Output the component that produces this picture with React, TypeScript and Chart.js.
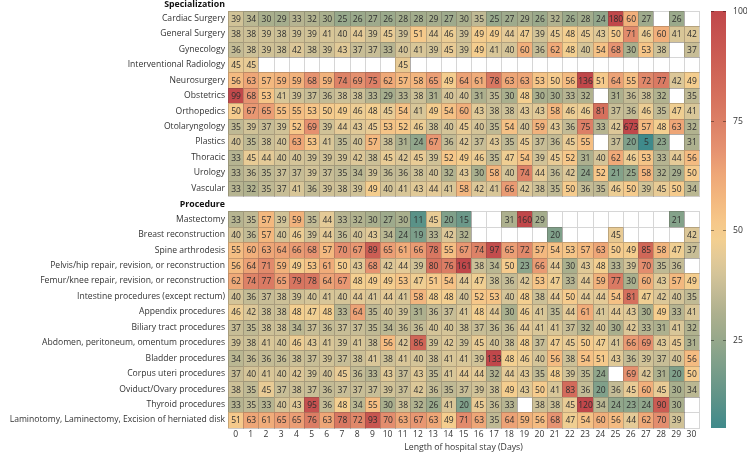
import React, { useEffect, useRef } from "react";
import { Chart, registerables } from "chart.js";

Chart.register(...registerables);

const FONT = '"Open Sans", sans-serif';
const n = null;

const days = [0, 1, 2, 3, 4, 5, 6, 7, 8, 9, 10, 11, 12, 13, 14, 15, 16, 17, 18, 19, 20, 21, 22, 23, 24, 25, 26, 27, 28, 29, 30];
const dayTickLabels = ["0", "1", "2", "3", "4", "5", "6", "7", "8", "9", "10", "11", "12", "13", "14", "15", "16", "17", "18", "19", "20", "21", "22", "23", "24", "25", "26", "27", "28", "29", "30"];
const xTitle = "Length of hospital stay (Days)";

const headerLabels = ["Specialization", "Procedure"];

// Specialization
const cardiacSurgery = [39, 34, 30, 29, 33, 32, 30, 25, 26, 27, 26, 28, 28, 29, 27, 30, 35, 25, 27, 29, 26, 32, 26, 28, 24, 180, 60, 27, n, 26, n];
const generalSurgery = [38, 38, 39, 38, 39, 39, 41, 40, 44, 39, 45, 39, 51, 44, 46, 39, 49, 49, 44, 47, 39, 45, 48, 45, 43, 50, 71, 46, 60, 41, 42];
const gynecology = [36, 38, 39, 38, 42, 38, 39, 43, 37, 37, 33, 40, 41, 39, 45, 39, 49, 41, 40, 60, 36, 62, 48, 40, 54, 68, 30, 53, 38, n, 37];
const interventionalRadiology = [45, 45, n, n, n, n, n, n, n, n, n, 45, n, n, n, n, n, n, n, n, n, n, n, n, n, n, n, n, n, n, n];
const neurosurgery = [56, 63, 57, 59, 59, 68, 59, 74, 69, 75, 62, 57, 58, 65, 49, 64, 61, 78, 63, 63, 53, 50, 56, 136, 51, 64, 55, 72, 77, 42, 49];
const obstetrics = [99, 68, 53, 41, 39, 37, 36, 38, 38, 33, 29, 33, 38, 31, 40, 40, 31, 35, 30, 48, 30, 30, 33, 32, n, 31, 36, 38, 32, n, 35];
const orthopedics = [50, 67, 65, 55, 55, 53, 50, 49, 46, 48, 45, 54, 41, 49, 54, 60, 43, 38, 38, 43, 43, 58, 46, 46, 81, 37, 36, 46, 35, 47, 41];
const otolaryngology = [35, 39, 37, 39, 52, 69, 39, 44, 43, 45, 53, 52, 46, 38, 40, 45, 40, 35, 54, 40, 59, 43, 36, 75, 33, 42, 673, 57, 48, 63, 32];
const plastics = [40, 35, 38, 40, 63, 53, 41, 35, 40, 57, 38, 31, 24, 67, 36, 42, 37, 43, 35, 45, 37, 36, 45, 55, n, 37, 20, 5, 23, n, 31];
const thoracic = [33, 45, 44, 40, 40, 39, 39, 39, 42, 38, 45, 42, 45, 39, 52, 49, 46, 35, 47, 54, 39, 45, 52, 31, 40, 62, 46, 53, 33, 44, 56];
const urology = [33, 36, 35, 37, 37, 39, 37, 35, 34, 39, 36, 36, 38, 40, 32, 43, 30, 58, 40, 74, 44, 36, 42, 24, 52, 21, 25, 58, 32, 29, 50];
const vascular = [33, 32, 35, 37, 41, 36, 39, 38, 39, 49, 40, 41, 43, 44, 41, 58, 42, 41, 66, 42, 38, 35, 50, 36, 35, 46, 50, 39, 45, 50, 34];

// Procedure
const mastectomy = [33, 35, 57, 39, 59, 35, 44, 33, 32, 30, 27, 30, 11, 45, 20, 15, n, n, 31, 160, 29, n, n, n, n, n, n, n, n, 21, n];
const breastReconstruction = [40, 36, 57, 40, 46, 39, 44, 36, 40, 43, 34, 24, 19, 33, 42, 32, n, n, n, n, n, 20, n, n, n, 45, n, n, n, n, 42];
const spineArthrodesis = [55, 60, 63, 64, 66, 68, 57, 70, 67, 89, 65, 61, 66, 78, 55, 67, 74, 97, 65, 72, 57, 54, 53, 57, 63, 50, 49, 85, 58, 47, 37];
const pelvisHip = [56, 64, 71, 59, 49, 53, 61, 50, 43, 68, 42, 44, 39, 80, 76, 161, 38, 34, 50, 23, 66, 44, 30, 43, 48, 33, 39, 70, 35, 36, n];
const femurKnee = [62, 74, 77, 65, 79, 78, 64, 67, 48, 49, 49, 53, 47, 51, 54, 44, 47, 38, 36, 42, 53, 47, 33, 44, 59, 77, 30, 60, 43, 57, 49];
const intestine = [40, 36, 37, 38, 39, 40, 41, 40, 44, 41, 44, 41, 58, 48, 48, 40, 52, 53, 40, 48, 38, 44, 50, 44, 44, 54, 81, 47, 42, 40, 35];
const appendix = [46, 42, 38, 38, 48, 47, 48, 33, 64, 35, 40, 39, 31, 36, 37, 41, 48, 44, 30, 46, 41, 35, 44, 61, 41, 44, 43, 30, 49, 33, 41];
const biliaryTract = [37, 35, 38, 38, 34, 37, 36, 37, 37, 35, 34, 36, 36, 40, 40, 38, 37, 36, 36, 44, 41, 41, 37, 32, 40, 30, 42, 33, 31, 41, 32];
const abdomen = [39, 38, 41, 40, 46, 43, 41, 39, 41, 38, 56, 42, 86, 39, 42, 39, 45, 40, 38, 48, 37, 47, 45, 50, 47, 41, 66, 69, 43, 45, 31];
const bladder = [34, 36, 36, 36, 38, 37, 39, 37, 38, 41, 38, 41, 40, 38, 41, 41, 39, 133, 48, 46, 40, 56, 38, 54, 51, 43, 36, 39, 37, 40, 56];
const corpusUteri = [37, 40, 41, 40, 42, 39, 40, 45, 36, 33, 43, 37, 43, 35, 41, 44, 44, 32, 44, 43, 35, 48, 39, 35, 24, n, 69, 42, 31, 20, 50];
const oviductOvary = [38, 35, 45, 37, 38, 37, 36, 37, 37, 37, 39, 37, 42, 36, 35, 37, 39, 38, 49, 43, 50, 41, 83, 36, 20, 36, 45, 60, 45, 30, 34];
const thyroid = [33, 35, 33, 40, 43, 95, 36, 48, 34, 55, 30, 38, 32, 26, 41, 20, 45, 36, 33, n, 38, 38, 45, 120, 34, 24, 23, 24, 90, 30, n];
const laminotomy = [51, 63, 61, 65, 65, 76, 63, 78, 72, 93, 70, 63, 67, 63, 49, 71, 63, 35, 64, 59, 56, 68, 47, 54, 60, 56, 44, 62, 70, 39, n];

const rowLabels = [
  "Specialization",
  "Cardiac Surgery",
  "General Surgery",
  "Gynecology",
  "Interventional Radiology",
  "Neurosurgery",
  "Obstetrics",
  "Orthopedics",
  "Otolaryngology",
  "Plastics",
  "Thoracic",
  "Urology",
  "Vascular",
  "Procedure",
  "Mastectomy",
  "Breast reconstruction",
  "Spine arthrodesis",
  "Pelvis/hip repair, revision, or reconstruction",
  "Femur/knee repair, revision, or reconstruction",
  "Intestine procedures (except rectum)",
  "Appendix procedures",
  "Biliary tract procedures",
  "Abdomen, peritoneum, omentum procedures",
  "Bladder procedures",
  "Corpus uteri procedures",
  "Oviduct/Ovary procedures",
  "Thyroid procedures",
  "Laminotomy, Laminectomy, Excision of herniated disk",
];

const rowValues: ((number | null)[] | null)[] = [
  null,
  cardiacSurgery, generalSurgery, gynecology, interventionalRadiology, neurosurgery, obstetrics,
  orthopedics, otolaryngology, plastics, thoracic, urology, vascular,
  null,
  mastectomy, breastReconstruction, spineArthrodesis, pelvisHip, femurKnee, intestine, appendix,
  biliaryTract, abdomen, bladder, corpusUteri, oviductOvary, thyroid, laminotomy,
];

const cbMin = 5;
const cbMax = 100;
const cbTicks = [25, 50, 75, 100];

const colorStops: [number, string][] = [
  [5, "#3f8a8b"],
  [12, "#5f9388"],
  [20, "#80a08a"],
  [26, "#9aa98b"],
  [31, "#adb08e"],
  [36, "#c3bb95"],
  [40, "#d4c498"],
  [44, "#e4ca97"],
  [48, "#f3cf90"],
  [52, "#f6c789"],
  [57, "#f3b87f"],
  [63, "#eea677"],
  [68, "#e69371"],
  [74, "#dd8267"],
  [80, "#d6725e"],
  [88, "#cd6055"],
  [100, "#c0474a"],
];

function hexToRgb(h: string) {
  const v = parseInt(h.slice(1), 16);
  return [(v >> 16) & 255, (v >> 8) & 255, v & 255];
}

function colorFor(v: number) {
  const t = Math.max(cbMin, Math.min(cbMax, v));
  for (let i = 0; i < colorStops.length - 1; i++) {
    const [v0, c0] = colorStops[i];
    const [v1, c1] = colorStops[i + 1];
    if (t >= v0 && t <= v1) {
      const f = (t - v0) / (v1 - v0);
      const a = hexToRgb(c0);
      const b = hexToRgb(c1);
      const r = a.map((x, k) => Math.round(x + (b[k] - x) * f));
      return `rgb(${r[0]},${r[1]},${r[2]})`;
    }
  }
  return colorStops[colorStops.length - 1][1];
}

type Cell = { x: number; y: number; v: number | null };

const cells: Cell[] = [];
rowValues.forEach((vals, r) => {
  if (!vals) return;
  vals.forEach((v, c) => cells.push({ x: days[c], y: r, v }));
});

const heatmapPlugin = {
  id: "heatmapCells",
  beforeDatasetsDraw(chart: any) {
    const { ctx, scales } = chart;
    const xs = scales.x;
    const ys = scales.y;
    const pts = chart.data.datasets[0].data as Cell[];
    const box = (p: Cell) => {
      const x0 = Math.round(xs.getPixelForValue(p.x - 0.5));
      const x1 = Math.round(xs.getPixelForValue(p.x + 0.5));
      const y0 = Math.round(ys.getPixelForValue(p.y - 0.5));
      const y1 = Math.round(ys.getPixelForValue(p.y + 0.5));
      return { x0, x1, y0, y1 };
    };
    ctx.save();
    ctx.lineWidth = 1;
    pts.filter((p) => p.v == null).forEach((p) => {
      const b = box(p);
      ctx.fillStyle = "#ffffff";
      ctx.fillRect(b.x0, b.y0, b.x1 - b.x0, b.y1 - b.y0);
      ctx.strokeStyle = "#d6d6d6";
      ctx.strokeRect(b.x0 + 0.5, b.y0 + 0.5, b.x1 - b.x0, b.y1 - b.y0);
    });
    pts.filter((p) => p.v != null).forEach((p) => {
      const b = box(p);
      ctx.fillStyle = colorFor(p.v as number);
      ctx.fillRect(b.x0, b.y0, b.x1 - b.x0, b.y1 - b.y0);
      ctx.strokeStyle = "rgba(80,70,60,0.28)";
      ctx.strokeRect(b.x0 + 0.5, b.y0 + 0.5, b.x1 - b.x0, b.y1 - b.y0);
    });
    ctx.fillStyle = "#2e2e2e";
    ctx.font = `8.5px ${FONT}`;
    ctx.textAlign = "center";
    ctx.textBaseline = "middle";
    pts.filter((p) => p.v != null).forEach((p) => {
      ctx.fillText(String(p.v), xs.getPixelForValue(p.x) + 0.5, ys.getPixelForValue(p.y) + 1);
    });
    // group headers, aligned with the y tick labels
    ctx.fillStyle = "#111";
    ctx.font = `bold 8.8px ${FONT}`;
    ctx.textAlign = "right";
    rowLabels.forEach((lab, r) => {
      if (!headerLabels.includes(lab)) return;
      ctx.fillText(lab, chart.chartArea.left - 3, ys.getPixelForValue(r) + (r === 0 ? 1.6 : 0.3));
    });
    ctx.restore();
  },
};

const colorbarPlugin = {
  id: "colorbar",
  afterDraw(chart: any) {
    const { ctx, chartArea, scales } = chart;
    const ys = scales.y;
    const top = Math.round(ys.getPixelForValue(0.5));
    const bottom = Math.round(ys.getPixelForValue(rowLabels.length - 0.5));
    const left = Math.round(chartArea.right) + 12;
    const width = 15;
    const grad = ctx.createLinearGradient(0, bottom, 0, top);
    colorStops.forEach(([v, c]) => grad.addColorStop((v - cbMin) / (cbMax - cbMin), c));
    ctx.save();
    ctx.fillStyle = grad;
    ctx.fillRect(left, top, width, bottom - top);
    ctx.font = `8.6px ${FONT}`;
    ctx.fillStyle = "#333";
    ctx.textAlign = "left";
    ctx.textBaseline = "middle";
    ctx.strokeStyle = "rgba(0,0,0,0.4)";
    ctx.lineWidth = 1;
    cbTicks.forEach((t) => {
      const py = Math.round(bottom - ((t - cbMin) / (cbMax - cbMin)) * (bottom - top)) + 0.5;
      ctx.beginPath();
      ctx.moveTo(left, py);
      ctx.lineTo(left + 3, py);
      ctx.moveTo(left + width - 3, py);
      ctx.lineTo(left + width, py);
      ctx.stroke();
      ctx.fillText(String(t), left + width + 7, py);
    });
    ctx.restore();
  },
};

export default function App() {
  const ref = useRef<HTMLCanvasElement | null>(null);
  useEffect(() => {
    document.body.style.margin = "0";
    const canvas = ref.current;
    if (!canvas) return;
    const chart = new Chart(canvas, {
      type: "scatter",
      data: {
        datasets: [{ data: cells as any, pointRadius: 0, pointHoverRadius: 0 }],
      },
      options: {
        animation: false,
        responsive: false,
        maintainAspectRatio: false,
        events: [],
        layout: { padding: { top: 0, right: 48, bottom: 0, left: 0 } },
        plugins: { legend: { display: false }, tooltip: { enabled: false } },
        scales: {
          x: {
            type: "linear",
            position: "bottom",
            min: -0.5,
            max: 30.5,
            afterBuildTicks: (s: any) => {
              s.ticks = days.map((d) => ({ value: d }));
            },
            afterFit: (s: any) => {
              s.height = 25.3;
              s.paddingLeft = 0;
              s.paddingRight = 0;
            },
            ticks: {
              autoSkip: false,
              maxRotation: 0,
              padding: 2,
              color: "#333",
              font: { family: FONT, size: 8.5 },
              callback: (v: any) => dayTickLabels[days.indexOf(Number(v))],
            },
            grid: { display: false, drawTicks: false },
            border: { display: false },
            title: {
              display: true,
              text: xTitle,
              color: "#333",
              font: { family: FONT, size: 8.7 },
              padding: { top: 1, bottom: 0 },
            },
          },
          y: {
            type: "linear",
            reverse: true,
            min: -0.19,
            max: 27.5,
            afterBuildTicks: (s: any) => {
              s.ticks = rowLabels.map((_, i) => ({ value: i }));
            },
            afterFit: (s: any) => {
              s.width = 228;
              s.paddingTop = 0;
              s.paddingBottom = 0;
            },
            ticks: {
              autoSkip: false,
              padding: 3,
              color: "#333",
              font: { family: FONT, size: 8.6 },
              callback: (v: any) => {
                const lab = rowLabels[Number(v)];
                return headerLabels.includes(lab) ? "" : lab;
              },
            },
            grid: { display: false, drawTicks: false },
            border: { display: false },
          },
        },
      } as any,
      plugins: [heatmapPlugin, colorbarPlugin],
    });
    return () => chart.destroy();
  }, []);
  return (
    <div style={{ width: 747, height: 453 }}>
      <canvas ref={ref} width={747} height={453} style={{ display: "block", width: 747, height: 453 }} />
    </div>
  );
}
